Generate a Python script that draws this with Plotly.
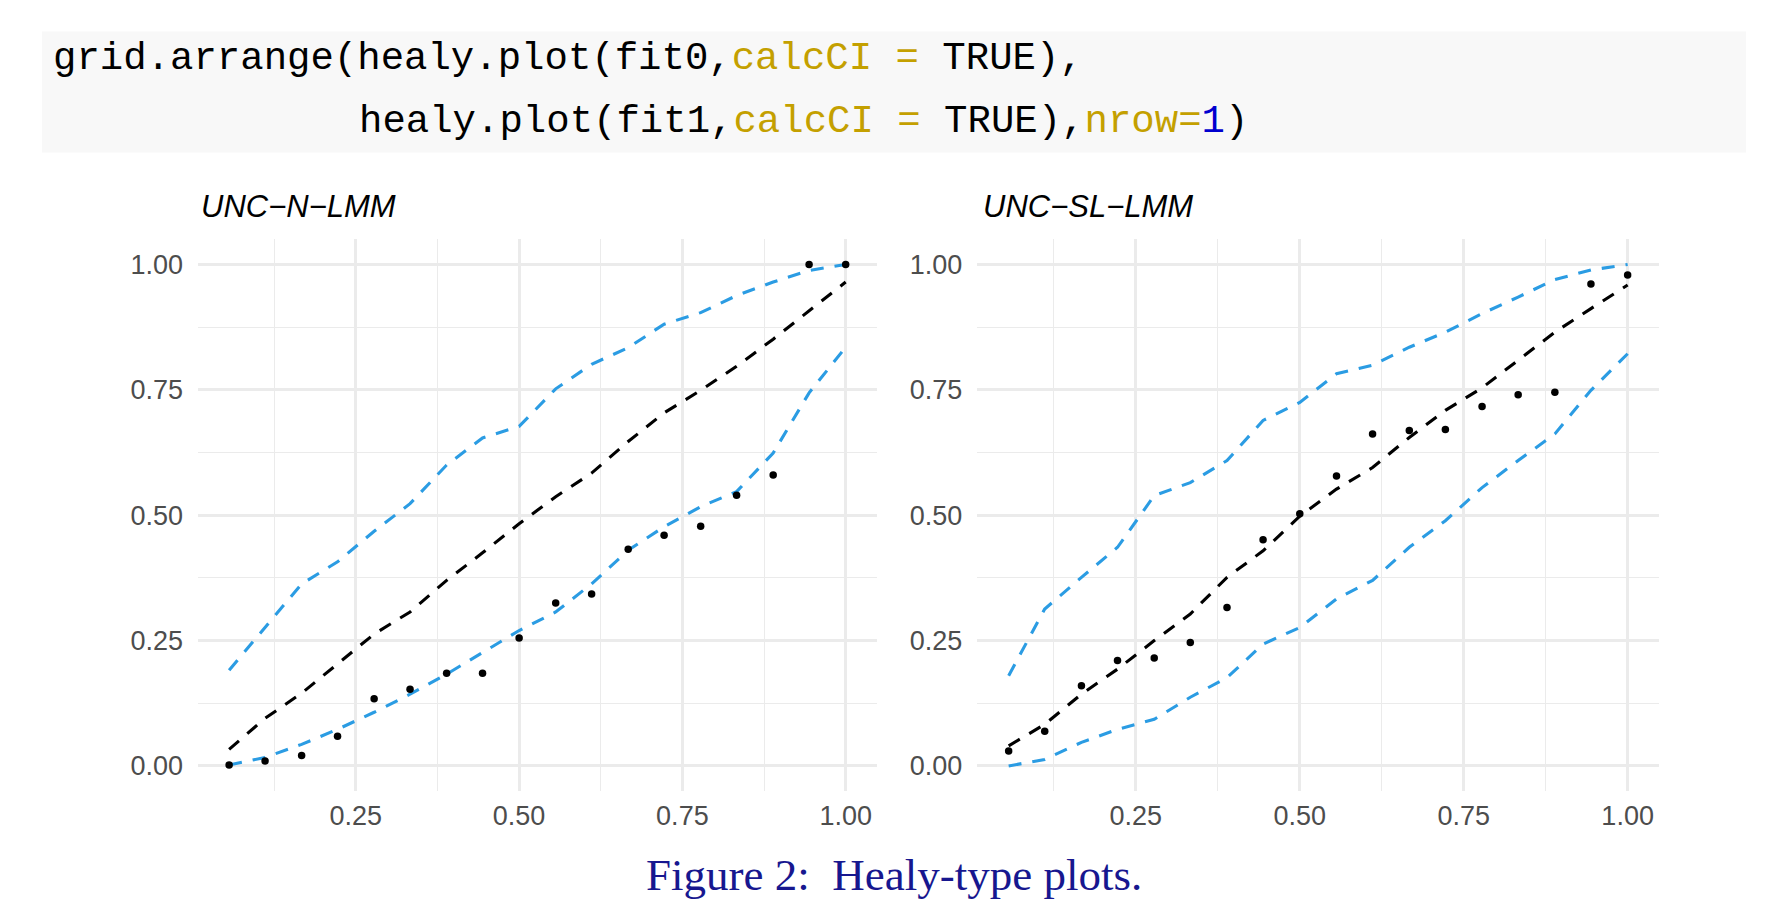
import plotly.graph_objects as go

W, H = 1772, 909

# ---- data ----
x_q = [0.056, 0.111, 0.167, 0.222, 0.278, 0.333, 0.389, 0.444, 0.500,
       0.556, 0.611, 0.667, 0.722, 0.778, 0.833, 0.889, 0.944, 1.000]

# UNC-N-LMM (fit0)
obs0 = [0.002, 0.010, 0.021, 0.059, 0.134, 0.153, 0.185, 0.185, 0.255,
        0.325, 0.343, 0.432, 0.460, 0.478, 0.540, 0.580, 1.000, 1.000]
med0 = [0.033, 0.095, 0.145, 0.203, 0.263, 0.307, 0.370, 0.425, 0.483,
        0.537, 0.584, 0.647, 0.704, 0.749, 0.797, 0.851, 0.908, 0.965]
up0 = [0.191, 0.277, 0.363, 0.407, 0.468, 0.523, 0.600, 0.654, 0.677,
       0.752, 0.801, 0.834, 0.881, 0.904, 0.938, 0.965, 0.988, 1.000]
lo0 = [0.002, 0.017, 0.043, 0.073, 0.107, 0.143, 0.183, 0.227, 0.270,
       0.307, 0.363, 0.430, 0.477, 0.517, 0.547, 0.624, 0.744, 0.835]

# UNC-SL-LMM (fit1)
obs1 = [0.030, 0.069, 0.160, 0.210, 0.215, 0.246, 0.316, 0.451, 0.503,
        0.578, 0.662, 0.669, 0.671, 0.717, 0.740, 0.745, 0.961, 0.979]
med1 = [0.040, 0.083, 0.143, 0.193, 0.250, 0.303, 0.376, 0.429, 0.498,
        0.552, 0.595, 0.655, 0.709, 0.754, 0.809, 0.865, 0.912, 0.959]
up1 = [0.180, 0.313, 0.376, 0.436, 0.539, 0.565, 0.609, 0.689, 0.725,
       0.782, 0.799, 0.835, 0.865, 0.902, 0.935, 0.970, 0.989, 1.000]
lo1 = [0.000, 0.013, 0.047, 0.073, 0.093, 0.137, 0.176, 0.243, 0.276,
       0.333, 0.370, 0.436, 0.489, 0.555, 0.609, 0.662, 0.749, 0.822]

titles = ["UNC\u2212N\u2212LMM", "UNC\u2212SL\u2212LMM"]
x_ticks = [0.25, 0.50, 0.75, 1.00]
x_ticklabels = ["0.25", "0.50", "0.75", "1.00"]
y_ticks = [0.00, 0.25, 0.50, 0.75, 1.00]
y_ticklabels = ["0.00", "0.25", "0.50", "0.75", "1.00"]
x_minor = [0.125, 0.375, 0.625, 0.875]
y_minor = [0.125, 0.375, 0.625, 0.875]

BLUE = "#2B9CE3"
DASH = "13px,11px"

fig = go.Figure()

panels = [(obs0, med0, up0, lo0, "x", "y"), (obs1, med1, up1, lo1, "x2", "y2")]
for obs, med, up, lo, xa, ya in panels:
    for series, col in [(up, BLUE), (lo, BLUE), (med, "black")]:
        fig.add_trace(go.Scatter(x=x_q, y=series, mode="lines", xaxis=xa, yaxis=ya,
                                 line=dict(color=col, width=3.1, dash=DASH),
                                 showlegend=False, hoverinfo="skip"))
    fig.add_trace(go.Scatter(x=x_q, y=obs, mode="markers", xaxis=xa, yaxis=ya,
                             marker=dict(color="black", size=7.5),
                             showlegend=False))

def px_x(p):
    return p / W

def px_y(p):
    return 1 - p / H

tickfont = dict(family="Liberation Sans, Arial, sans-serif", size=27, color="#4D4D4D")
common_x = dict(range=[0.00833, 1.0472], tickvals=x_ticks, ticktext=x_ticklabels,
                showgrid=True, gridcolor="#EBEBEB", gridwidth=2.6, zeroline=False,
                showline=False, ticks="", tickfont=tickfont, ticklabelstandoff=6,
                minor=dict(tickvals=x_minor, showgrid=True, gridcolor="#EBEBEB", gridwidth=1.4),
                fixedrange=True)
common_y = dict(range=[-0.05, 1.05], tickvals=y_ticks, ticktext=y_ticklabels,
                showgrid=True, gridcolor="#EBEBEB", gridwidth=2.6, zeroline=False,
                showline=False, ticks="", tickfont=tickfont, ticklabelstandoff=14,
                minor=dict(tickvals=y_minor, showgrid=True, gridcolor="#EBEBEB", gridwidth=1.4),
                fixedrange=True)

ydom = [px_y(791), px_y(239.4)]
fig.update_layout(
    width=W, height=H, margin=dict(l=0, r=0, t=0, b=0),
    paper_bgcolor="white", plot_bgcolor="white",
    xaxis=dict(domain=[px_x(198), px_x(876.5)], anchor="y", **common_x),
    yaxis=dict(domain=ydom, anchor="x", **common_y),
    xaxis2=dict(domain=[px_x(977.4), px_x(1658.6)], anchor="y2", **common_x),
    yaxis2=dict(domain=ydom, anchor="x2", **common_y),
)

shapes = [dict(type="rect", xref="paper", yref="paper",
               x0=px_x(42), x1=px_x(1746), y0=px_y(152.5), y1=px_y(31.6),
               fillcolor="#F8F8F8", line=dict(width=0), layer="below")]
fig.update_layout(shapes=shapes)

GOLD = "#C4A000"
NUMB = "#0000CF"
codefont = dict(family="Liberation Mono, DejaVu Sans Mono, monospace", size=39, color="black")
line1 = ('grid.arrange(healy.plot(fit0,<span style="color:%s">calcCI = </span>TRUE),' % GOLD)
line2 = ('healy.plot(fit1,<span style="color:%s">calcCI = </span>TRUE),'
         '<span style="color:%s">nrow=</span><span style="color:%s">1</span>)' % (GOLD, GOLD, NUMB))

titlefont = dict(family="Liberation Sans, Arial, sans-serif", size=31, color="black")
annotations = [
    dict(text=line1, x=px_x(51), y=px_y(59), xref="paper", yref="paper",
         xanchor="left", yanchor="middle", showarrow=False, font=codefont),
    dict(text=line2, x=px_x(356.5), y=px_y(122.5), xref="paper", yref="paper",
         xanchor="left", yanchor="middle", showarrow=False, font=codefont),
    dict(text="<i>%s</i>" % titles[0], x=px_x(199), y=px_y(207), xref="paper", yref="paper",
         xanchor="left", yanchor="middle", showarrow=False, font=titlefont),
    dict(text="<i>%s</i>" % titles[1], x=px_x(981), y=px_y(207), xref="paper", yref="paper",
         xanchor="left", yanchor="middle", showarrow=False, font=titlefont),
    dict(text="Figure 2:  Healy-type plots.", x=px_x(894), y=px_y(875), xref="paper", yref="paper",
         xanchor="center", yanchor="middle", showarrow=False,
         font=dict(family="Liberation Serif, DejaVu Serif, serif", size=45, color="#17178F")),
]
fig.update_layout(annotations=annotations)

fig.write_html("out.html", config={"displayModeBar": False})
